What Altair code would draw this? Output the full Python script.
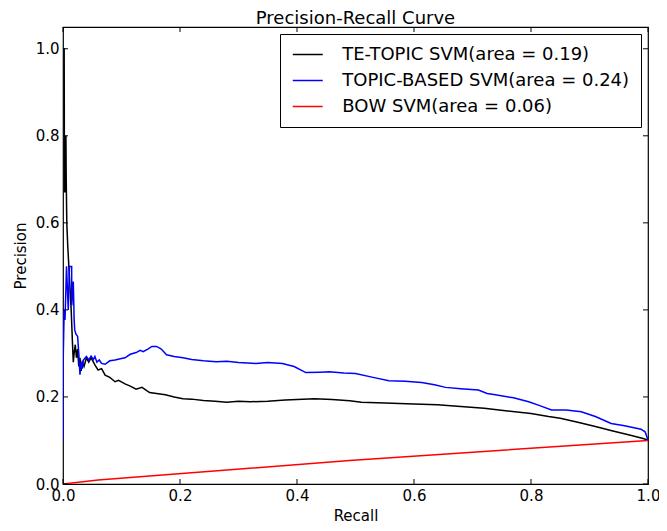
import altair as alt
import pandas as pd

chart_title = "Precision-Recall Curve"
series_names = ["TE-TOPIC SVM(area = 0.19)", "TOPIC-BASED SVM(area = 0.24)", "BOW SVM(area = 0.06)"]
series_colors = ["#000000", "#0000ff", "#ff0000"]

te_recall = [0.0, 0.002, 0.0025, 0.003, 0.0035, 0.004, 0.005, 0.0055, 0.0065, 0.008, 0.01, 0.012,
             0.014, 0.016, 0.0176, 0.019, 0.021, 0.023, 0.025, 0.027, 0.029, 0.031, 0.033, 0.036,
             0.04, 0.044, 0.048, 0.052, 0.056, 0.06, 0.066, 0.072, 0.08, 0.089, 0.095, 0.106,
             0.115, 0.125, 0.135, 0.148, 0.16, 0.175, 0.19, 0.205, 0.22, 0.24, 0.26, 0.28, 0.3,
             0.32, 0.35, 0.38, 0.41, 0.43, 0.46, 0.49, 0.51, 0.55, 0.6, 0.64, 0.68, 0.72, 0.76,
             0.8, 0.83, 0.85, 0.88, 0.91, 0.94, 0.97, 0.99, 1.0]
te_precision = [1.0, 1.0, 0.67, 0.8, 0.67, 0.72, 0.8, 0.7, 0.6, 0.55, 0.5, 0.45,
                0.4, 0.33, 0.28, 0.3, 0.32, 0.29, 0.31, 0.27, 0.29, 0.26, 0.28, 0.27,
                0.29, 0.28, 0.29, 0.28, 0.27, 0.262, 0.265, 0.25, 0.245, 0.235, 0.238, 0.23,
                0.225, 0.218, 0.222, 0.21, 0.208, 0.205, 0.2, 0.196, 0.195, 0.192, 0.19, 0.188, 0.19,
                0.189, 0.19, 0.193, 0.195, 0.196, 0.194, 0.191, 0.188, 0.186, 0.184, 0.182, 0.178, 0.174, 0.168,
                0.162, 0.155, 0.151, 0.142, 0.132, 0.122, 0.112, 0.105, 0.101]

tb_recall = [0.0, 0.0005, 0.002, 0.0034, 0.005, 0.006, 0.009, 0.011, 0.0148, 0.015, 0.0176, 0.019,
             0.02, 0.022, 0.025, 0.027, 0.029, 0.031, 0.033, 0.035, 0.038, 0.04, 0.044, 0.048,
             0.052, 0.0545, 0.058, 0.062, 0.066, 0.072, 0.08, 0.089, 0.098, 0.106, 0.115, 0.125,
             0.132, 0.137, 0.145, 0.152, 0.16, 0.168, 0.177, 0.19, 0.205, 0.22, 0.24, 0.262, 0.28,
             0.3, 0.33, 0.35, 0.375, 0.395, 0.415, 0.44, 0.455, 0.48, 0.5, 0.53, 0.557, 0.585,
             0.613, 0.635, 0.654, 0.68, 0.71, 0.725, 0.739, 0.77, 0.796, 0.815, 0.835, 0.86, 0.886,
             0.91, 0.937, 0.96, 0.988, 0.995, 1.0]
tb_precision = [0.1, 0.3, 0.4, 0.377, 0.45, 0.5, 0.4, 0.5, 0.5, 0.41, 0.465, 0.38,
                0.354, 0.345, 0.339, 0.3, 0.251, 0.28, 0.265, 0.285, 0.29, 0.293, 0.285, 0.294,
                0.286, 0.293, 0.28, 0.285, 0.277, 0.275, 0.283, 0.285, 0.288, 0.29, 0.298, 0.302,
                0.307, 0.304, 0.31, 0.316, 0.316, 0.31, 0.297, 0.293, 0.29, 0.286, 0.283, 0.281, 0.282,
                0.279, 0.277, 0.279, 0.277, 0.27, 0.256, 0.257, 0.258, 0.255, 0.254, 0.245, 0.237, 0.236,
                0.233, 0.228, 0.222, 0.219, 0.216, 0.208, 0.205, 0.198, 0.189, 0.18, 0.17, 0.17, 0.166,
                0.155, 0.139, 0.134, 0.126, 0.12, 0.101]

bow_recall = [0.0, 0.06, 0.49, 1.0]
bow_precision = [0.0, 0.009, 0.054, 0.1]

x_ticks = [0.0, 0.2, 0.4, 0.6, 0.8, 1.0]
y_ticks = [0.0, 0.2, 0.4, 0.6, 0.8, 1.0]

W, H = 585, 457
FONT = "DejaVu Sans"

rows = []
for name, rec, prec in zip(series_names, [te_recall, tb_recall, bow_recall],
                           [te_precision, tb_precision, bow_precision]):
    for i, (r, p) in enumerate(zip(rec, prec)):
        rows.append({"series": name, "recall": r, "precision": p, "order": i})
df = pd.DataFrame(rows)

xs = alt.Scale(domain=[0, 1], nice=False, zero=False)
ys = alt.Scale(domain=[0, 1.05], nice=False, zero=False)
x_axis = alt.Axis(title="Recall", values=x_ticks, format=".1f", titlePadding=5, labelFlush=False)
y_axis = alt.Axis(title="Precision", values=y_ticks, format=".1f", titlePadding=7, labelFlush=False)

lines = alt.Chart(df).mark_line(strokeWidth=1.5, clip=True).encode(
    x=alt.X("recall:Q", scale=xs, axis=x_axis),
    y=alt.Y("precision:Q", scale=ys, axis=y_axis),
    color=alt.Color(
        "series:N",
        scale=alt.Scale(domain=series_names, range=series_colors),
        sort=series_names,
        legend=alt.Legend(
            title=None, orient="top-right", offset=7, fillColor="white", strokeColor="black",
            padding=11.5, labelFontSize=18, labelFont=FONT, labelColor="black",
            symbolType="M-2.4,0L2.4,0", symbolSize=156, symbolStrokeWidth=1.5,
            symbolOffset=7.25, labelOffset=25.5, rowPadding=8, cornerRadius=0, labelLimit=500,
        ),
    ),
    order="order:Q",
)

xt = pd.DataFrame({"recall": x_ticks})
yt = pd.DataFrame({"precision": y_ticks})
bottom = alt.Chart(xt).mark_rule(color="black", strokeWidth=1).encode(
    x=alt.X("recall:Q", scale=xs, axis=x_axis), y=alt.value(H), y2=alt.value(H - 5))
top = alt.Chart(xt).mark_rule(color="black", strokeWidth=1).encode(
    x=alt.X("recall:Q", scale=xs, axis=x_axis), y=alt.value(0), y2=alt.value(5))
left = alt.Chart(yt).mark_rule(color="black", strokeWidth=1).encode(
    y=alt.Y("precision:Q", scale=ys, axis=y_axis), x=alt.value(0), x2=alt.value(5))
right = alt.Chart(yt).mark_rule(color="black", strokeWidth=1).encode(
    y=alt.Y("precision:Q", scale=ys, axis=y_axis), x=alt.value(W), x2=alt.value(W - 5))

chart = alt.layer(lines, bottom, top, left, right).properties(
    width=W, height=H,
    title=alt.Title(chart_title, fontSize=18, font=FONT, fontWeight="normal", offset=-1, color="black"),
    padding={"left": 55, "top": 19, "right": 11, "bottom": 39},
    autosize=alt.AutoSizeParams(type="none"),
).configure_view(stroke="black", strokeWidth=1.2).configure_axis(
    domain=False, ticks=False, tickSize=0, grid=False,
    labelFont=FONT, labelFontSize=15, labelColor="black", labelPadding=4,
    titleFont=FONT, titleFontSize=15, titleFontWeight="normal", titleColor="black",
)

chart.save("out.html", embed_options={"renderer": "svg", "actions": False})
